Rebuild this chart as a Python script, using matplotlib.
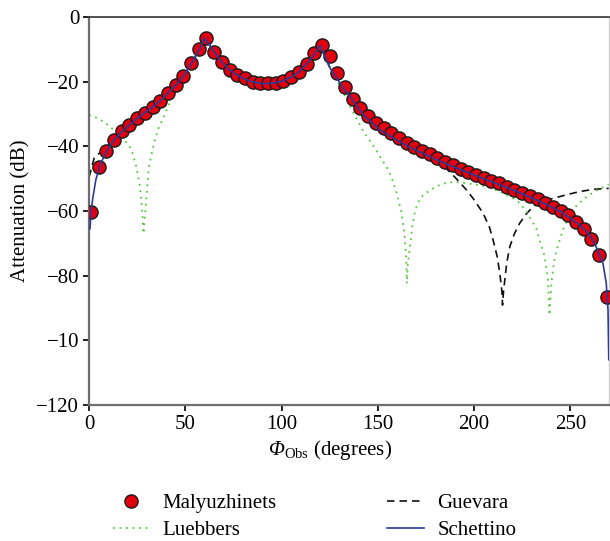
import matplotlib
matplotlib.use("Agg")
import matplotlib.pyplot as plt

plt.rcParams["font.family"] = ["Liberation Serif", "DejaVu Serif"]
plt.rcParams["mathtext.fontset"] = "custom"
plt.rcParams["mathtext.rm"] = "Liberation Serif"
plt.rcParams["mathtext.it"] = "Liberation Serif:italic"
plt.rcParams["mathtext.cal"] = "Liberation Serif:italic"

# Malyuzhinets (markers), observation angle in degrees vs attenuation in dB
maly_x = [1, 5, 9, 13, 17, 21, 25, 29, 33, 37, 41, 45, 49, 53, 57, 61,
          65, 69, 73, 77, 81, 85, 89, 93, 97, 101, 105, 109, 113, 117, 121,
          125, 129, 133, 137, 141, 145, 149, 153, 157, 161, 165, 169, 173,
          177, 181, 185, 189, 193, 197, 201, 205, 209, 213, 217, 221, 225,
          229, 233, 237, 241, 245, 249, 253, 257, 261, 265, 269]
maly_y = [-60.3, -46.4, -41.4, -38.0, -35.4, -33.4, -31.3, -29.6, -27.9,
          -25.9, -23.5, -21.0, -18.2, -14.3, -10.0, -6.4, -10.8, -13.9,
          -16.4, -17.9, -19.0, -20.0, -20.4, -20.5, -20.3, -19.7, -18.7,
          -17.1, -14.5, -11.0, -8.7, -12.1, -17.4, -21.8, -25.5, -28.2,
          -30.5, -32.7, -34.2, -36.0, -37.5, -38.9, -40.3, -41.3, -42.5,
          -43.7, -44.8, -45.9, -46.9, -47.9, -48.8, -49.7, -50.6, -51.4,
          -52.5, -53.4, -54.3, -55.5, -56.4, -57.6, -58.7, -60.0, -61.3,
          -63.4, -65.7, -68.7, -73.7, -86.7]

# Schettino (solid blue)
sch_x = [0.5, 1, 1.8, 3.5, 6, 9.6, 13, 17, 21, 25, 29, 33, 37, 41, 45, 49,
         53, 57, 60, 63, 65, 69, 73, 77, 81, 85, 89, 93, 97, 101, 105, 109,
         113, 117, 120, 125.3, 132.2, 135.6, 142.5, 151.2, 159.8, 166,
         173.6, 180, 185, 190, 197.8, 205, 213, 221, 229, 237, 245, 250,
         254.8, 258, 261, 263, 265, 267, 268.7, 269.6, 270]
sch_y = [-65.5, -60.5, -56.6, -50.4, -45.3, -41.1, -38.0, -35.5, -33.4,
         -31.4, -29.6, -27.9, -25.9, -23.6, -21.1, -18.3, -14.5, -10.4,
         -6.6, -9.0, -10.8, -13.9, -16.4, -18.0, -19.2, -20.1, -20.5,
         -20.6, -20.3, -19.7, -18.6, -17.0, -14.6, -11.6, -8.9, -15.9,
         -22.1, -24.6, -30.3, -35.0, -38.0, -40.1, -42.2, -44.0, -45.3,
         -46.5, -48.3, -50.0, -51.8, -53.7, -55.7, -57.8, -60.2, -62.2,
         -64.3, -66.0, -68.3, -70.5, -73.3, -76.2, -82.4, -90.6, -106.0]

# Luebbers (dotted green)
lue_x = [0, 4, 7, 10, 13, 16, 19, 21.7, 24.2, 26.5, 27.7, 28.3, 29.4,
         31.1, 33.7, 36, 38.9, 43.3, 47.6, 51, 55, 60, 63, 65, 69, 73, 77,
         81, 85, 89, 93, 97, 101, 105, 109, 113, 117, 120, 125, 129.6, 134,
         138.5, 142.6, 148.6, 152, 155.5, 158, 159.8, 162.4, 164, 164.8,
         165.1, 165.5, 166.7, 168, 169.3, 172, 175.4, 180, 184, 190, 196,
         203, 210, 215, 220.3, 223.7, 227.2, 230, 232.4, 234, 236.7, 238.4,
         239.2, 240.2, 242, 244.5, 247, 249.6, 253, 257.4, 263, 270]
lue_y = [-30.3, -31.2, -32.2, -33.5, -35.0, -36.6, -38.6, -40.6, -45.3,
         -52.5, -60.7, -67.0, -58.7, -46.3, -39.1, -34.5, -30.8, -24.6,
         -20.0, -16.5, -12.3, -6.6, -9.0, -10.8, -13.9, -16.4, -18.0,
         -19.2, -20.1, -20.5, -20.6, -20.3, -19.7, -18.6, -17.0, -14.6,
         -11.6, -8.9, -15.5, -20.5, -25.7, -31.0, -35.5, -40.6, -44.0,
         -47.3, -51.0, -54.5, -60.7, -68.0, -75.0, -82.4, -77.0, -71.0,
         -64.5, -60.0, -56.0, -54.3, -52.5, -51.5, -51.0, -51.4, -52.0,
         -53.2, -54.5, -56.1, -57.5, -60.2, -63.0, -65.5, -69.0, -74.1,
         -81.3, -92.2, -82.4, -74.0, -69.0, -64.5, -61.8, -58.5, -56.1,
         -53.8, -51.8]

# Guevara (dashed black)
gue_x = [0, 0.6, 1.5, 2.7, 5, 9, 13, 17, 21, 25, 29, 33, 37, 41, 45, 49,
         53, 57, 60, 63, 65, 69, 73, 77, 81, 85, 89, 93, 97, 101, 105, 109,
         113, 117, 120, 125.3, 132.2, 135.6, 142.5, 151.2, 159.8, 166,
         173.6, 177.1, 180, 185.8, 190, 196.1, 200, 204.7, 208, 209.9, 212,
         213.4, 214.5, 214.8, 215.3, 216, 217, 218.6, 221, 223.7, 227,
         230.6, 235, 241, 248, 254.8, 262, 270]
gue_y = [-49.5, -48.3, -46.0, -43.6, -42.3, -40.6, -37.8, -35.5, -33.4,
         -31.4, -29.6, -27.9, -25.9, -23.6, -21.1, -18.3, -14.5, -10.4,
         -6.6, -9.0, -10.8, -13.9, -16.4, -18.0, -19.2, -20.1, -20.5,
         -20.6, -20.3, -19.7, -18.6, -17.0, -14.6, -11.6, -8.9, -15.9,
         -22.1, -24.6, -30.3, -35.0, -38.0, -40.1, -42.2, -43.7, -44.8,
         -47.0, -49.5, -53.5, -56.5, -60.7, -65.0, -69.0, -74.0, -79.3,
         -85.0, -89.1, -85.0, -81.3, -76.0, -71.0, -67.0, -63.8, -61.0,
         -58.7, -57.0, -56.1, -55.0, -54.0, -53.3, -53.0]

y_ticks = [0, -20, -40, -60, -80, -100, -120]
y_tick_labels = ["0", "\u221220", "\u221240", "\u221260", "\u221280", "\u221210", "\u2212120"]
x_ticks = [0, 50, 100, 150, 200, 250]

fig = plt.figure(figsize=(6.10, 5.41), dpi=100)
ax = fig.add_axes([0.146, 0.2514, 0.852, 0.7172])

ax.plot(gue_x, gue_y, color="#111111", lw=1.2, ls=(0, (4.5, 3)), label="Guevara", zorder=2)
ax.plot(lue_x, lue_y, color="#55c93c", lw=1.3, ls=(0, (1, 2.6)), label="Luebbers", zorder=2)
ax.plot(maly_x, maly_y, ls="none", marker="o", ms=9.5, mfc="#e0000f", mec="#1a1a1a",
        mew=1.0, label="Malyuzhinets", zorder=3)
ax.plot(sch_x, sch_y, color="#2c3a96", lw=1.2, label="Schettino", zorder=4)

ax.set_xlim(0, 270)
ax.set_ylim(-120, 0)
ax.set_xticks(x_ticks)
ax.set_yticks(y_ticks)
ax.set_yticklabels(y_tick_labels)
ax.tick_params(direction="out", length=4, width=1.4, labelsize=15, color="#222222", pad=3)

for side in ["left", "bottom"]:
    ax.spines[side].set_color("#6e6e6e")
    ax.spines[side].set_linewidth(1.6)
ax.spines["top"].set_color("#333333")
ax.spines["top"].set_linewidth(1.2)
ax.spines["right"].set_color("#cfcfcf")
ax.spines["right"].set_linewidth(1.0)

ax.set_xlabel("$\\mathcal{\u03a6}_{\\mathrm{Obs}}$ (degrees)", fontsize=15)
ax.xaxis.set_label_coords(0.463, -0.085)
ax.set_ylabel("Attenuation (dB)", fontsize=15, labelpad=4)

handles, labels = ax.get_legend_handles_labels()
order = [labels.index(n) for n in ["Malyuzhinets", "Luebbers", "Guevara", "Schettino"]]
fig.legend([handles[i] for i in order], [labels[i] for i in order],
           ncol=2, loc="upper left", bbox_to_anchor=(0.185, 0.088),
           frameon=False, fontsize=15, handlelength=1.75, handletextpad=0.65,
           columnspacing=5.3, labelspacing=0.35, borderpad=0, borderaxespad=0)

fig.savefig("out.png", dpi=100)
